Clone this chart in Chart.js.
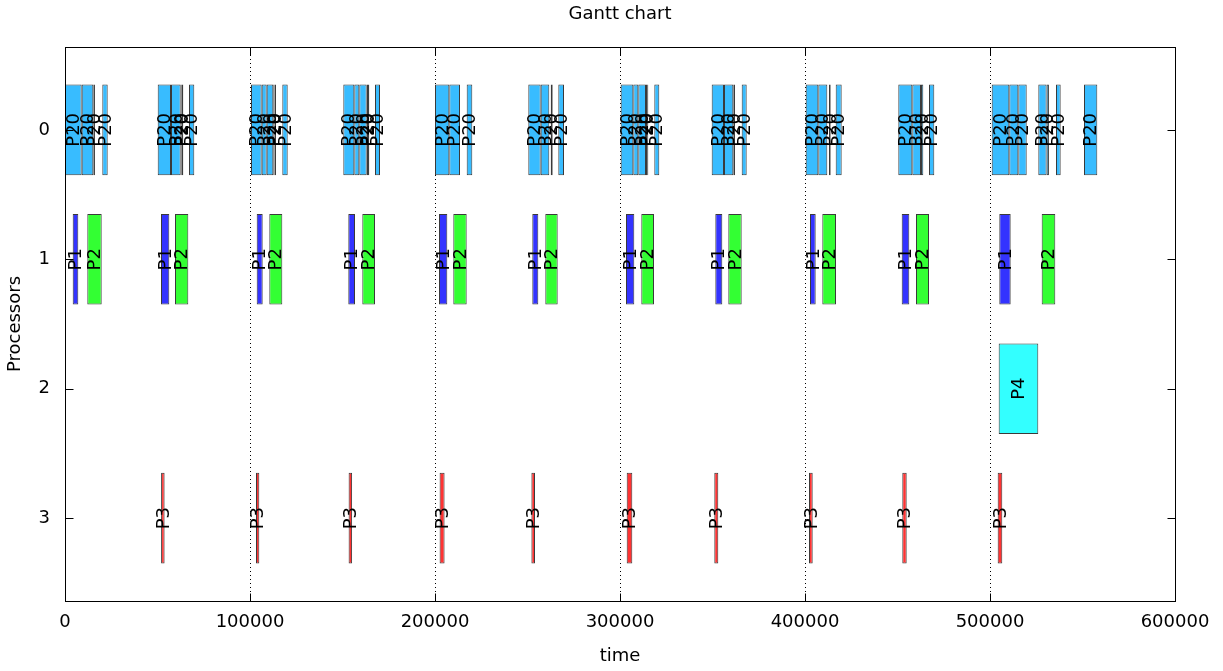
<!DOCTYPE html>
<html><head><meta charset="utf-8">
<script src="https://cdn.jsdelivr.net/npm/chart.js@4"></script>
<style>html,body{margin:0;padding:0;background:#fff}</style>
</head><body>
<canvas id="c" width="1223" height="671"></canvas>
<script>
// ---------------- data ----------------
const chartTitle = 'Gantt chart';
const processorTicks = [0, 1, 2, 3];
const timeTicks = [0, 100000, 200000, 300000, 400000, 500000, 600000];

// processor 0 : task P20 (many short boxes)
const p20Start = [0, 9030, 15300, 20160,
  50110, 57300, 62540, 63100, 67030,
  100540, 106320, 109030, 112590, 113300, 117460,
  150430, 156380, 159080, 163080, 163800, 167570,
  200000, 207730, 217130,
  250430, 257130, 262540, 266650,
  300370, 307190, 309890, 314050, 314700, 318540,
  349560, 356210, 361240, 365780,
  400380, 407190, 412970, 416590,
  450430, 458000, 462700, 467030,
  500920, 510430, 515300, 526110, 530600, 535670, 550810];
const p20End = [9030, 15300, 16200, 23080,
  57300, 62540, 63100, 63950, 69890,
  106320, 109030, 112590, 113300, 114050, 120380,
  156380, 159080, 163080, 163800, 164480, 170270,
  207730, 213510, 220160,
  257130, 261780, 263620, 269730,
  307190, 309890, 314050, 314700, 315290, 321240,
  356210, 361240, 362160, 368480,
  407190, 412060, 413890, 419830,
  458000, 462700, 463940, 469890,
  510430, 515300, 519840, 530600, 531860, 538210, 558000];

// processor 1 : tasks P1 and P2
const p1Start = [4160, 51890, 103620, 153130, 202160, 252590, 303240, 351510, 402700, 452270, 505020];
const p1End   = [7190, 56380, 106860, 156760, 206650, 255840, 307730, 355300, 405780, 456380, 511180];
const p2Start = [12050, 59460, 110430, 160700, 209890, 259620, 311510, 358540, 409350, 459990, 527940];
const p2End   = [19840, 66650, 117460, 167570, 217130, 266320, 318380, 365780, 416760, 467030, 535290];

// processor 2 : task P4
const p4Start = [504690];
const p4End   = [526100];

// processor 3 : task P3
const p3Start = [51940, 103240, 153300, 202480, 252100, 303620, 350970, 402160, 452590, 504150];
const p3End   = [53840, 105030, 155190, 205180, 254050, 306650, 353130, 404160, 454970, 506640];

// --------------------------------------
const FONT = '"DejaVu Sans", sans-serif';
Chart.defaults.font.family = FONT;
Chart.defaults.color = '#000';

function rows(starts, ends, proc) {
  return starts.map((s, i) => ({ x: [s, ends[i]], y: proc }));
}
function ds(name, starts, ends, proc, color) {
  return {
    label: name, taskName: name,
    data: rows(starts, ends, proc),
    backgroundColor: color, borderColor: '#3a3a3a', borderWidth: 1,
    borderSkipped: false, grouped: false,
    categoryPercentage: 1, barPercentage: 0.7
  };
}

const framePlugin = {
  id: 'frame',
  beforeDatasetsDraw(chart) {
    const { ctx, chartArea: a, scales: { x } } = chart;
    ctx.save();
    ctx.strokeStyle = '#000'; ctx.lineWidth = 1; ctx.setLineDash([1, 3]);
    timeTicks.forEach(v => {
      if (v === timeTicks[0] || v === timeTicks[timeTicks.length - 1]) return;
      const px = Math.round(x.getPixelForValue(v)) + 0.5;
      ctx.beginPath(); ctx.moveTo(px, a.top); ctx.lineTo(px, a.bottom); ctx.stroke();
    });
    ctx.restore();
  },
  afterDatasetsDraw(chart) {
    const { ctx, chartArea: a, scales: { x, y } } = chart;
    ctx.save();
    ctx.strokeStyle = '#000'; ctx.lineWidth = 1; ctx.setLineDash([]);
    const L = Math.round(a.left) + 0.5, R = Math.round(a.right) + 0.5;
    const T = Math.round(a.top) + 0.5, B = Math.round(a.bottom) + 0.5;
    ctx.strokeRect(L, T, R - L, B - T);
    const tl = 8;
    ctx.beginPath();
    timeTicks.forEach(v => {
      const px = Math.round(x.getPixelForValue(v)) + 0.5;
      ctx.moveTo(px, B); ctx.lineTo(px, B - tl);
      ctx.moveTo(px, T); ctx.lineTo(px, T + tl);
    });
    processorTicks.forEach(v => {
      const py = Math.round(y.getPixelForValue(v)) + 0.5;
      ctx.moveTo(L, py); ctx.lineTo(L + tl, py);
      ctx.moveTo(R, py); ctx.lineTo(R - tl, py);
    });
    ctx.stroke();

    ctx.fillStyle = '#000';
    ctx.font = '18px ' + FONT;
    ctx.textAlign = 'center'; ctx.textBaseline = 'middle';
    // chart title, centred over the plot area
    ctx.fillText(chartTitle, (a.left + a.right) / 2, 14);

    // task labels, rotated, centred on each box
    chart.data.datasets.forEach((d, i) => {
      chart.getDatasetMeta(i).data.forEach(el => {
        const p = el.getProps(['x', 'base', 'y'], true);
        ctx.save();
        ctx.translate((p.x + p.base) / 2, p.y);
        ctx.rotate(-Math.PI / 2);
        ctx.fillText(d.taskName, 0, 1);
        ctx.restore();
      });
    });
    ctx.restore();
  }
};

new Chart(document.getElementById('c'), {
  type: 'bar',
  data: {
    datasets: [
      ds('P20', p20Start, p20End, 0, '#38bcff'),
      ds('P1', p1Start, p1End, 1, '#3333ff'),
      ds('P2', p2Start, p2End, 1, '#33ff33'),
      ds('P4', p4Start, p4End, 2, '#33ffff'),
      ds('P3', p3Start, p3End, 3, '#ff3333')
    ]
  },
  options: {
    indexAxis: 'y',
    responsive: false,
    animation: false,
    layout: { padding: { left: 0, right: 48, top: 47, bottom: 0 } },
    plugins: {
      legend: { display: false },
      tooltip: { enabled: false },
      title: { display: false }
    },
    scales: {
      x: {
        type: 'linear', min: 0, max: 600000,
        afterBuildTicks: s => { s.ticks = timeTicks.map(v => ({ value: v })); },
        ticks: { callback: v => String(v), font: { size: 18 }, color: '#000', padding: 11, maxRotation: 0 },
        grid: { display: false, drawTicks: false },
        border: { display: false },
        title: { display: true, text: 'time', color: '#000', font: { size: 18 }, padding: { top: 0, bottom: 4 } },
        afterFit: s => { s.height = 70; }
      },
      y: {
        type: 'linear', reverse: true, min: -0.64, max: 3.64, offset: false,
        afterBuildTicks: s => { s.ticks = processorTicks.map(v => ({ value: v })); },
        ticks: { stepSize: 1, includeBounds: false, font: { size: 18 }, color: '#000', padding: 15 },
        grid: { display: false, drawTicks: false, offset: false },
        border: { display: false },
        title: { display: true, text: 'Processors', color: '#000', font: { size: 18 }, padding: { top: 5, bottom: 0 } },
        afterFit: s => { s.width = 65; }
      }
    }
  },
  plugins: [framePlugin]
});
</script>
</body></html>
